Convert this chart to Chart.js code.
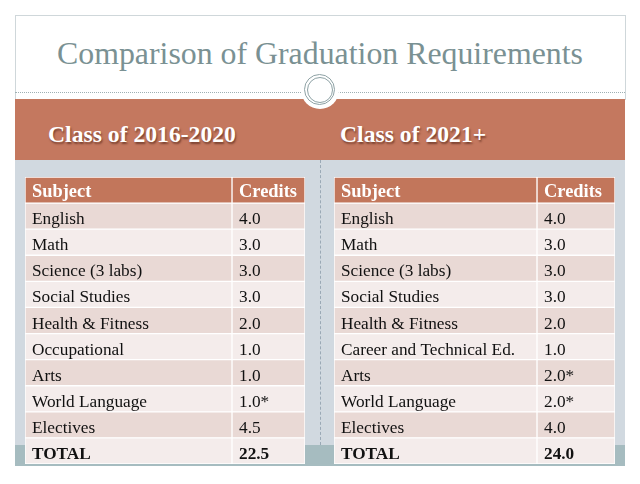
<!DOCTYPE html>
<html>
<head>
<meta charset="utf-8">
<script src="https://cdn.jsdelivr.net/npm/chart.js@4.4.0/dist/chart.umd.min.js"></script>
<style>
  html,body{margin:0;padding:0;background:#fff;}
  #page{position:relative;width:640px;height:484px;overflow:hidden;background:#fff;font-family:"Liberation Serif",serif;}
  .abs{position:absolute;}
  #slide{left:15px;top:15px;width:609px;height:84px;border:1px solid #cfd7da;border-bottom:none;background:#fff;}
  #title{left:0;width:640px;text-align:center;color:#7a9193;white-space:nowrap;line-height:1;}
  #dots{left:15px;top:92px;width:610px;height:0;border-top:1px dotted #9fb0b3;}
  #band{left:15px;top:99px;width:610px;height:61px;background:#c4785f;}
  #panel{left:15px;top:160px;width:610px;height:285px;background:#d1d9e0;}
  #foot{left:15px;top:445px;width:610px;height:21px;background:#a6bcc0;}
  #vline{left:320px;top:160px;width:0;height:285px;border-left:1px dashed #9aa9b6;}
  #notch{left:301px;top:71px;width:38px;height:38px;border-radius:50%;background:#fff;}
  #ring1{left:304px;top:74px;width:29px;height:29px;border-radius:50%;border:1.5px solid #8ea2a5;}
  #ring2{left:307px;top:77px;width:24px;height:24px;border-radius:50%;border:1px solid #8ea2a5;}
  .cls{color:#fff;font-weight:bold;white-space:nowrap;line-height:1;text-shadow:1px 2px 2px rgba(60,20,10,0.55);}
  #clsA{left:48px;}
  #clsB{left:340px;}
  #tA{left:25px;top:177px;width:280px;height:287px;}
  #tB{left:334px;top:177px;width:281px;height:287px;}
</style>
</head>
<body>
<div id="page">
  <div id="slide" class="abs"></div>
  <div id="dots" class="abs"></div>
  <div id="band" class="abs"></div>
  <div id="panel" class="abs"></div>
  <div id="foot" class="abs"></div>
  <div id="vline" class="abs"></div>
  <div id="notch" class="abs"></div>
  <div id="ring1" class="abs"></div>
  <div id="ring2" class="abs"></div>
  <div id="title" class="abs">Comparison of Graduation Requirements</div>
  <div id="clsA" class="abs cls">Class of 2016-2020</div>
  <div id="clsB" class="abs cls">Class of 2021+</div>
  <div id="tA" class="abs"><canvas id="cA" width="280" height="287"></canvas></div>
  <div id="tB" class="abs"><canvas id="cB" width="281" height="287"></canvas></div>
</div>
<script>
// ---- data ----
const columnHeaders = ["Subject", "Credits"];
const totalLabel = "TOTAL";

const subjects2016 = ["English","Math","Science (3 labs)","Social Studies","Health & Fitness","Occupational","Arts","World Language","Electives"];
const credits2016  = [4.0, 3.0, 3.0, 3.0, 2.0, 1.0, 1.0, 1.0, 4.5];
const notes2016    = ["", "", "", "", "", "", "", "*", ""];
const total2016    = 22.5;

const subjects2021 = ["English","Math","Science (3 labs)","Social Studies","Health & Fitness","Career and Technical Ed.","Arts","World Language","Electives"];
const credits2021  = [4.0, 3.0, 3.0, 3.0, 2.0, 1.0, 2.0, 2.0, 4.0];
const notes2021    = ["", "", "", "", "", "", "*", "*", ""];
const total2021    = 24.0;

// ---- styling ----
const FAMILY = '"Liberation Serif", serif';
const mc = document.createElement('canvas').getContext('2d');
function fit(text, weight, width){
  mc.font = weight + ' 100px ' + FAMILY;
  return 100 * width / mc.measureText(text).width;
}
function place(id, size, baseline){
  const el = document.getElementById(id);
  el.style.fontSize = size.toFixed(2) + 'px';
  el.style.top = (baseline - 0.8375 * size).toFixed(1) + 'px';
}
const titleSize = fit("Comparison of Graduation Requirements", "normal", 526);
place('title', titleSize, 65);
const clsSize = fit("Class of 2016-2020", "bold", 188);
place('clsA', clsSize, 143);
place('clsB', clsSize, 143);
const bodySize = fit("World Language", "normal", 115);
const headSize = fit("Credits", "bold", 58);

const HEAD_BG = '#c2765b', ROW_DARK = '#e9d9d5', ROW_LIGHT = '#f4eceb';

const textPlugin = {
  id: 'cellText',
  afterDatasetsDraw(chart){
    const ctx = chart.ctx, xs = chart.scales.x, ys = chart.scales.y;
    const o = chart.options.plugins.cellText;
    ctx.save();
    ctx.textBaseline = 'alphabetic';
    o.rows.forEach((row, i) => {
      const y = ys.getPixelForValue(i);
      const head = i === 0, bold = head || i === o.rows.length - 1;
      ctx.fillStyle = head ? '#ffffff' : '#111111';
      ctx.font = (bold ? 'bold ' : '') + (head ? headSize : bodySize).toFixed(2) + 'px ' + FAMILY;
      const dy = head ? 7 : 8;
      ctx.fillText(row[0], xs.getPixelForValue(0) + 7, y + dy);
      ctx.fillText(row[1], xs.getPixelForValue(o.split) + 7, y + dy);
    });
    ctx.restore();
  }
};

function makeTable(id, subjects, credits, notes, total, split, width){
  const labels = [columnHeaders[0], ...subjects, totalLabel];
  const values = [columnHeaders[1], ...credits.map((c, i) => c.toFixed(1) + notes[i]), total.toFixed(1)];
  const rows = labels.map((l, i) => [l, values[i]]);
  const bg = labels.map((_, i) => i === 0 ? HEAD_BG : (i % 2 ? ROW_DARK : ROW_LIGHT));
  const common = {backgroundColor: bg, borderColor: '#ffffff', borderWidth: 1, borderSkipped: false,
                  barPercentage: 1, categoryPercentage: 1, grouped: false};
  new Chart(document.getElementById(id), {
    type: 'bar',
    data: {
      labels: labels,
      datasets: [
        Object.assign({label: columnHeaders[0], data: labels.map(() => [0, split])}, common),
        Object.assign({label: columnHeaders[1], data: labels.map(() => [split, width])}, common)
      ]
    },
    options: {
      indexAxis: 'y', responsive: false, animation: false, devicePixelRatio: 1,
      layout: {padding: 0},
      scales: {
        x: {type: 'linear', min: 0, max: width, display: false},
        y: {type: 'category', display: false, offset: true}
      },
      plugins: {legend: {display: false}, tooltip: {enabled: false}, cellText: {rows: rows, split: split}}
    },
    plugins: [textPlugin]
  });
}
makeTable('cA', subjects2016, credits2016, notes2016, total2016, 207, 280);
makeTable('cB', subjects2021, credits2021, notes2021, total2021, 203, 281);
</script>
</body>
</html>
